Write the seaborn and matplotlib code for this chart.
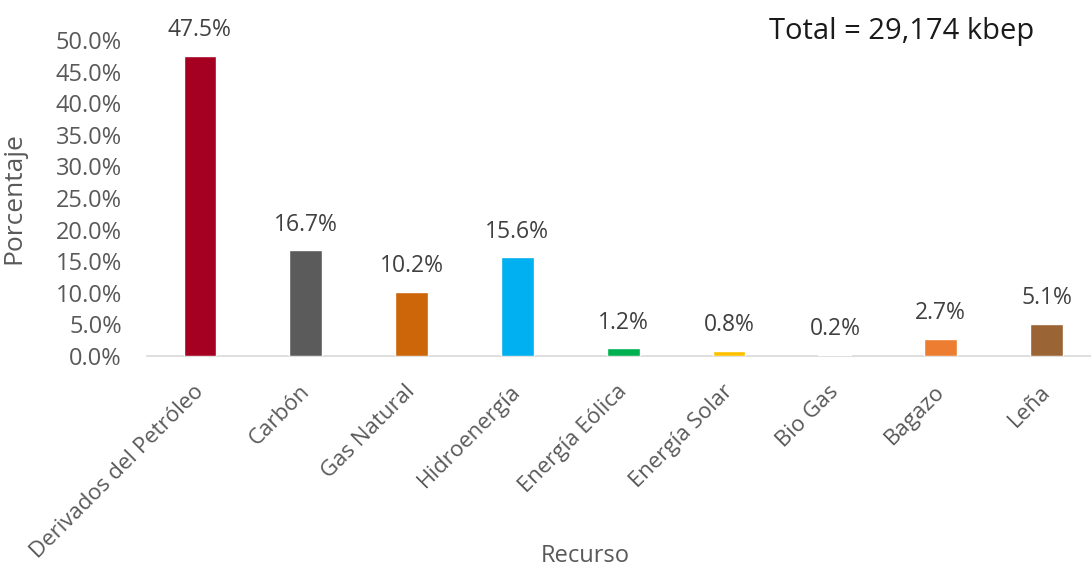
import matplotlib
matplotlib.use("Agg")
import matplotlib.pyplot as plt
import matplotlib.transforms as mtransforms
import seaborn as sns
import pandas as pd
from matplotlib.ticker import PercentFormatter

recursos = ["Derivados del Petróleo", "Carbón", "Gas Natural", "Hidroenergía",
            "Energía Eólica", "Energía Solar", "Bio Gas", "Bagazo", "Leña"]
porcentaje = [47.5, 16.7, 10.2, 15.6, 1.2, 0.8, 0.2, 2.7, 5.1]
colores = ["#A50021", "#5B5B5B", "#CC6608", "#00B0F0", "#00B050",
           "#FFC000", "#A9A9C4", "#ED7D31", "#9A6434"]

df = pd.DataFrame({"Recurso": recursos, "Porcentaje": porcentaje})

sns.set_style("white")
plt.rcParams["font.family"] = ["Open Sans", "DejaVu Sans"]
gris = "#595959"

fig = plt.figure(figsize=(10.91, 5.81), dpi=100)
ax = fig.add_axes([147 / 1091, 1 - 356 / 581, (1091 - 147) / 1091, (356 - 40) / 581])

sns.barplot(data=df, x="Recurso", y="Porcentaje", hue="Recurso", palette=colores,
            legend=False, width=0.31, ax=ax, saturation=1, zorder=3)

for i, v in enumerate(porcentaje):
    ax.annotate(f"{v:.1f}%", (i, v), xytext=(0, 10), textcoords="offset points",
                ha="center", va="bottom", fontsize=16.5, color="#404040",
                annotation_clip=False)

ax.set_ylim(0, 50)
ax.set_xlim(-0.5, 8.42)
ax.set_yticks(range(0, 51, 5))
ax.yaxis.set_major_formatter(PercentFormatter(decimals=1))
ax.tick_params(axis="y", labelsize=17, labelcolor=gris, length=0, pad=18)
ax.tick_params(axis="x", labelsize=16, labelcolor=gris, length=0, pad=18)
plt.setp(ax.get_xticklabels(), rotation=45, ha="right", rotation_mode="anchor")

# desplazar un poco las etiquetas a la izquierda
shift = mtransforms.ScaledTranslation(-7 / 100, 0, fig.dpi_scale_trans)
for lbl in ax.get_xticklabels():
    lbl.set_transform(lbl.get_transform() + shift)

for s in ["top", "right", "left"]:
    ax.spines[s].set_visible(False)
ax.spines["bottom"].set_color("#D9D9D9")
ax.spines["bottom"].set_linewidth(1.2)

ax.set_ylabel("Porcentaje", fontsize=19, color=gris)
ax.set_xlabel("Recurso", fontsize=17, color=gris)
ax.yaxis.set_label_coords(-0.128, 0.5)
ax.xaxis.set_label_coords(0.464, -0.595)

fig.text(902 / 1091, 1 - 32 / 581, "Total = 29,174 kbep", ha="center", va="center",
         fontsize=21, color="#1a1a1a")

plt.savefig("out.png", dpi=100)
